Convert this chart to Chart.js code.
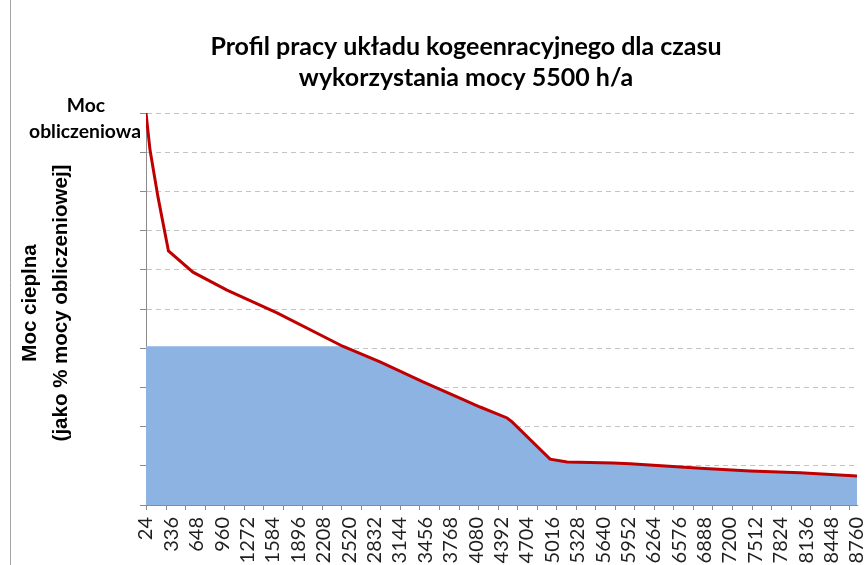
<!DOCTYPE html>
<html>
<head>
<meta charset="utf-8">
<script src="https://cdn.jsdelivr.net/npm/chart.js@4.4.0/dist/chart.umd.min.js"></script>
<style>
  html, body { margin: 0; padding: 0; background: #fff; }
  #wrap { width: 865px; height: 565px; }
</style>
</head>
<body>
<div id="wrap"><canvas id="chart" width="865" height="565"></canvas></div>
<script>
// hours of the year (sorted duration curve) and values in % of design heat load
var hours      = [24, 73, 171, 257, 300, 601, 1019, 1634, 2440, 2900, 3428, 3846, 4129, 4461, 4522, 4989, 5198, 5763, 5972, 6833, 7447, 8062, 8760];
var heatDemand = [100, 90.6, 78.6, 69.4, 64.8, 59.4, 54.8, 49.0, 40.5, 36.5, 31.4, 27.6, 25.0, 22.2, 21.2, 11.7, 11.0, 10.7, 10.5, 9.4, 8.7, 8.2, 7.4];
var chpOutput  = [40.5, 40.5, 40.5, 40.5, 40.5, 40.5, 40.5, 40.5, 40.5, 36.5, 31.4, 27.6, 25.0, 22.2, 21.2, 11.7, 11.0, 10.7, 10.5, 9.4, 8.7, 8.2, 7.4];

var xTickLabels = [24, 336, 648, 960, 1272, 1584, 1896, 2208, 2520, 2832, 3144, 3456, 3768, 4080, 4392,
                   4704, 5016, 5328, 5640, 5952, 6264, 6576, 6888, 7200, 7512, 7824, 8136, 8448, 8760];
var xTickMarkStep = 240;

var titleLines  = ['Profil pracy układu kogeenracyjnego dla czasu', 'wykorzystania mocy 5500 h/a'];
var yTitleLines = ['Moc cieplna', '(jako % mocy obliczeniowej]'];
var topLabel    = ['Moc', 'obliczeniowa'];

function points(ys) {
  return hours.map(function (h, i) { return { x: h, y: ys[i] }; });
}

// font size (px) that makes text about `width` px wide
function fitSize(ctx, text, width, font) {
  ctx.font = font.replace('{s}', '100px');
  return 100 * width / ctx.measureText(text).width;
}

var decorations = {
  id: 'decorations',
  afterDraw: function (chart) {
    var ctx = chart.ctx;
    var xs = chart.scales.x;
    var area = chart.chartArea;
    var s;
    ctx.save();

    // frame line on the left
    ctx.strokeStyle = '#a6a6a6';
    ctx.lineWidth = 1;
    ctx.beginPath();
    ctx.moveTo(10.5, 0);
    ctx.lineTo(10.5, 565);
    ctx.stroke();

    // x tick marks (different interval from the labels)
    ctx.strokeStyle = '#8c8c8c';
    ctx.beginPath();
    for (var h = 24; h <= 8760; h += xTickMarkStep) {
      var px = Math.round(xs.getPixelForValue(h)) + 0.5;
      ctx.moveTo(px, area.bottom);
      ctx.lineTo(px, area.bottom + 5);
    }
    ctx.stroke();

    ctx.fillStyle = '#000';
    ctx.textAlign = 'center';
    ctx.textBaseline = 'alphabetic';

    // title
    s = Math.min(fitSize(ctx, titleLines[0], 520, 'bold {s} Lato'), 25);
    ctx.font = 'bold ' + s + 'px Lato';
    ctx.fillText(titleLines[0], 466, 55);
    ctx.fillText(titleLines[1], 466, 86);

    // label at top of y axis
    s = Math.min(fitSize(ctx, topLabel[1], 112, 'bold {s} Lato'), 20);
    ctx.font = 'bold ' + s + 'px Lato';
    ctx.fillText(topLabel[0], 86, 112);
    ctx.fillText(topLabel[1], 85, 138);

    // y axis title
    s = Math.min(fitSize(ctx, yTitleLines[1], 277, 'bold {s} "Liberation Sans"'), 21);
    ctx.font = 'bold ' + s + 'px "Liberation Sans"';
    ctx.textBaseline = 'middle';
    ctx.translate(30, 303);
    ctx.rotate(-Math.PI / 2);
    ctx.fillText(yTitleLines[0], 0, 0);
    ctx.fillText(yTitleLines[1], 0, 31);
    ctx.restore();
  }
};

new Chart(document.getElementById('chart'), {
  type: 'line',
  data: {
    datasets: [{
      label: 'Zapotrzebowanie na ciepło',
      data: points(heatDemand),
      borderColor: '#c00000',
      borderWidth: 3,
      pointRadius: 0,
      fill: false,
      order: 0
    }, {
      label: 'Układ kogeneracyjny',
      data: points(chpOutput),
      borderWidth: 0,
      backgroundColor: '#8db3e2',
      fill: 'origin',
      pointRadius: 0,
      order: 1
    }]
  },
  options: {
    responsive: false,
    animation: false,
    layout: { padding: { left: 140, right: 8, top: 113, bottom: 0 } },
    plugins: { legend: { display: false }, title: { display: false }, tooltip: { enabled: false } },
    scales: {
      x: {
        type: 'linear',
        min: 24,
        max: 8760,
        afterBuildTicks: function (scale) {
          scale.ticks = xTickLabels.map(function (v) { return { value: v }; });
        },
        afterFit: function (scale) {
          scale.height = 60;
          scale.paddingLeft = 0;
          scale.paddingRight = 0;
        },
        ticks: {
          autoSkip: false,
          minRotation: 90,
          maxRotation: 90,
          padding: 12,
          color: '#1f1f1f',
          font: { family: 'Lato', size: 20 },
          callback: function (v) { return String(v); }
        },
        grid: { display: false, drawTicks: false },
        border: { display: true, color: '#8c8c8c' }
      },
      y: {
        min: 0,
        max: 100,
        ticks: { stepSize: 10, display: false },
        grid: { color: '#c4c4c4', tickLength: 6, tickColor: '#8c8c8c', tickBorderDash: [] },
        border: { display: true, color: '#8c8c8c', dash: [5, 4] }
      }
    }
  },
  plugins: [decorations]
});
</script>
</body>
</html>
